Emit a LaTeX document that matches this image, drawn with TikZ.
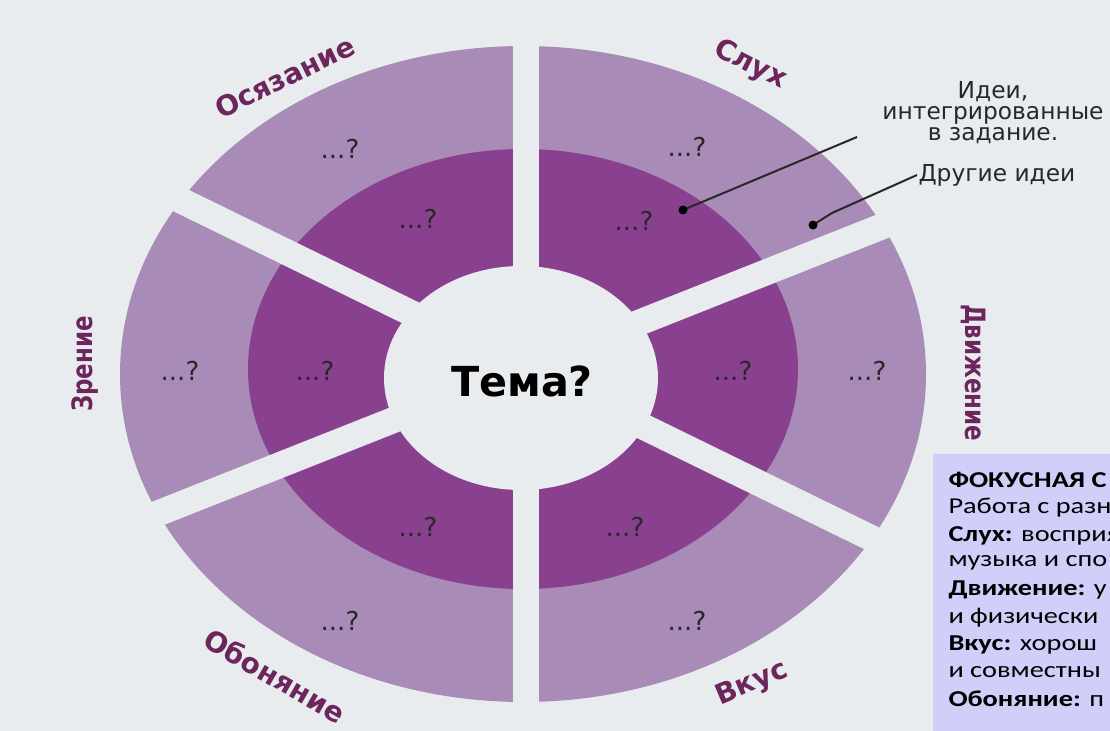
\documentclass[tikz,border=0pt]{standalone}
\usepackage{fontspec}
\setmainfont{DejaVu Sans}
\newfontfamily\boxfont{Carlito}

\definecolor{bgGray}{RGB}{233,236,238}
\definecolor{ringLight}{RGB}{168,139,182}
\definecolor{ringDark}{RGB}{137,65,143}
\definecolor{labPurple}{RGB}{108,38,93}
\definecolor{noteBox}{RGB}{207,207,250}
\definecolor{inkGray}{RGB}{40,40,40}

\tikzset{every picture/.style={line width=0.75pt}}
\tikzset{
  sense/.style={text=labPurple, inner sep=0pt, font=\bfseries\fontsize{21}{24}\selectfont},
  qmark/.style={text=inkGray, inner sep=0pt, font=\fontsize{19.5}{22}\selectfont},
  gapline/.style={draw=bgGray, line width=19.5pt},
  note/.style={text=inkGray, inner sep=0pt, font=\fontsize{17.5}{15.75}\selectfont},
  boxline/.style={anchor=west, inner sep=0pt, text=black, font=\boxfont\fontsize{17}{20}\selectfont},
}

\begin{document}
\begin{tikzpicture}[x=0.75pt,y=0.75pt,yscale=-1,xscale=1]
	\useasboundingbox (0,0) rectangle (1110,731);

	%Shape: Rectangle [background]
	\fill [bgGray] (0,0) rectangle (1110,731);
	%Shape: Ellipse [outer ring]
	\fill [ringLight] (523,374) ellipse [x radius=403, y radius=328];
	%Shape: Ellipse [middle ring]
	\fill [ringDark] (523,369) ellipse [x radius=275, y radius=220];
	%Shape: Ellipse [centre]
	\fill [bgGray] (521,378) ellipse [x radius=137, y radius=112];

	%Shape: Gaps between the six parts
	\draw [gapline] (526,20) -- (526,725);
	\draw [gapline] (120,170.7) -- (935,569.3);
	\draw [gapline] (110,532.4) -- (935,205.4);

	%Shape: Callouts
	\coordinate (dotIn) at (683,210);
	\coordinate (dotOut) at (813,225);
	\coordinate (kinkOut) at (832,213);
	\coordinate (endIn) at (857,137);
	\coordinate (endOut) at (917,175);
	\draw [inkGray, line width=1.5pt] (dotIn) -- (endIn);
	\draw [inkGray, line width=1.5pt] (dotOut) -- (kinkOut) -- (endOut);
	\fill [black] (dotIn) circle [radius=4.5];
	\fill [black] (dotOut) circle [radius=4.5];

	% Text Node
	\draw (522,381) node [inner sep=0pt, font=\bfseries\fontsize{31}{36}\selectfont] (topic) {Тема?};

	% Text Node
	\draw (285,77) node [sense, rotate=26] (touch) {Осязание};
	% Text Node
	\draw (750,65) node [sense, rotate=-27] (hearing) {Слух};
	% Text Node
	\draw (973,373) node [sense, rotate=-90] (motion) {\scalebox{0.82}[1]{Движение}};
	% Text Node
	\draw (85,364) node [sense, rotate=90] (sight) {\scalebox{0.82}[1]{Зрение}};
	% Text Node
	\draw (275,676) node [sense, rotate=-30] (smell) {Обоняние};
	% Text Node
	\draw (752,684) node [sense, rotate=23] (taste) {Вкус};

	% Text Node
	\draw (340,149) node [qmark] (qTouchOut) {...?};
	% Text Node
	\draw (418,219) node [qmark] (qTouchIn) {...?};
	% Text Node
	\draw (687,147) node [qmark] (qHearOut) {...?};
	% Text Node
	\draw (634,221) node [qmark] (qHearIn) {...?};
	% Text Node
	\draw (180,371) node [qmark] (qSightOut) {...?};
	% Text Node
	\draw (315,371) node [qmark] (qSightIn) {...?};
	% Text Node
	\draw (867,371) node [qmark] (qMoveOut) {...?};
	% Text Node
	\draw (733,371) node [qmark] (qMoveIn) {...?};
	% Text Node
	\draw (340,621) node [qmark] (qSmellOut) {...?};
	% Text Node
	\draw (418,527) node [qmark] (qSmellIn) {...?};
	% Text Node
	\draw (687,621) node [qmark] (qTasteOut) {...?};
	% Text Node
	\draw (625,527) node [qmark] (qTasteIn) {...?};

	% Text Node
	\draw (993,113) node [note, align=center] (ideasIn) {Идеи,\\интегрированные\\в задание.};
	% Text Node
	\draw (918,175) node [note, anchor=west] (ideasOut) {Другие идеи};

	%Shape: Rectangle [note box]
	\fill [noteBox] (933,454) rectangle (1110,731);
	% Text Node
	\draw (948,480) node [boxline] (bxHead) {\scalebox{1.25}[1]{\textbf{ФОКУСНАЯ С}}};
	% Text Node
	\draw (948,508) node [boxline] (bxWork) {\scalebox{1.25}[1]{Работа с разн}};
	% Text Node
	\draw (948,536) node [boxline] (bxHear) {\scalebox{1.25}[1]{\textbf{Слух:} восприя}};
	% Text Node
	\draw (948,563) node [boxline] (bxMusic) {\scalebox{1.25}[1]{музыка и спо}};
	% Text Node
	\draw (948,590) node [boxline] (bxMove) {\scalebox{1.25}[1]{\textbf{Движение:} у}};
	% Text Node
	\draw (948,618) node [boxline] (bxPhys) {\scalebox{1.25}[1]{и физически}};
	% Text Node
	\draw (948,645) node [boxline] (bxTaste) {\scalebox{1.25}[1]{\textbf{Вкус:} хорош}};
	% Text Node
	\draw (948,672) node [boxline] (bxJoint) {\scalebox{1.25}[1]{и совместны}};
	% Text Node
	\draw (948,699) node [boxline] (bxSmell) {\scalebox{1.25}[1]{\textbf{Обоняние:} п}};

\end{tikzpicture}
\end{document}
